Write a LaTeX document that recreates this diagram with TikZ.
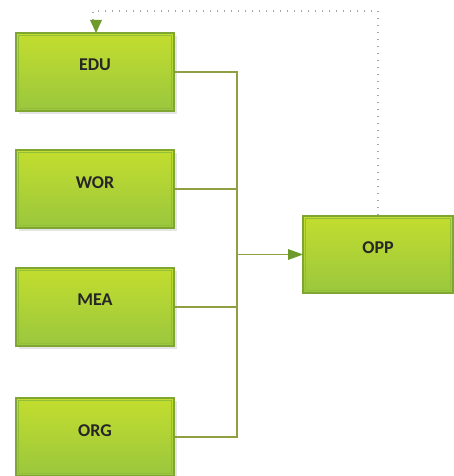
\documentclass[tikz,border=0pt]{standalone}
\usepackage{fontspec}
\setmainfont{Carlito}
\usetikzlibrary{arrows.meta}
\definecolor{gtop}{HTML}{C3DD2E}
\definecolor{gbot}{HTML}{9AC73E}
\definecolor{gedge}{HTML}{7FA633}
\definecolor{gin}{HTML}{93BE3A}
\definecolor{lineol}{HTML}{8FA043}
\definecolor{arrowg}{HTML}{6E9A2C}
\tikzset{
  gbox/.style={rectangle, minimum width=158pt, minimum height=78pt, inner sep=0pt,
    top color=gtop, bottom color=gbot, draw=gedge, line width=1.2pt},
  lbl/.style={font=\bfseries\fontsize{18}{20}\selectfont, text=black!85},
  conn/.style={draw=lineol, line width=1.4pt},
  fb/.style={draw=gray!70, line width=1.3pt, dash pattern=on 1.3pt off 5.7pt}
}
\newcommand{\innerframe}[1]{\draw[gin, line width=0.8pt] ([shift={(3pt,-3pt)}]#1.north west) rectangle ([shift={(-3pt,3pt)}]#1.south east);}
\begin{document}
\begin{tikzpicture}[x=1pt,y=-1pt]
\useasboundingbox (0,0) rectangle (453,476);
\fill[white] (0,0) rectangle (453,476);
% shadows
\foreach \y in {72,189,307,437} {\fill[gray!20] (19,\y-36) rectangle (177,\y+42);}
\node[gbox] (edu) at (95,72) {};
\node[gbox] (wor) at (95,189) {};
\node[gbox] (mea) at (95,307) {};
\node[gbox] (org) at (95,437) {};
\node[gbox, minimum width=150pt, minimum height=77pt] (opp) at (378,254.5) {};
\innerframe{edu}\innerframe{wor}\innerframe{mea}\innerframe{org}\innerframe{opp}
\node[lbl] (tedu) at (95,65) {EDU};
\node[lbl] (twor) at (95,183) {WOR};
\node[lbl] (tmea) at (95,300) {MEA};
\node[lbl] (torg) at (95,431) {ORG};
\node[lbl] (topp) at (378,248) {OPP};
\coordinate (bus) at (237,0);
\coordinate (top) at (0,11);
\coordinate (ahead) at (290,254.5);
\draw[conn] (edu.east) -- (edu.east -| bus) -- (org.east -| bus) -- (org.east);
\draw[conn] (wor.east) -- (wor.east -| bus);
\draw[conn] (mea.east) -- (mea.east -| bus);
\draw[conn] (opp.west -| bus) -- (ahead);
\fill[arrowg] (288,249) -- (303,254.5) -- (288,260) -- cycle;
\draw[fb] (opp.north) -- (opp.north |- top) -- ([xshift=-2pt]edu.north |- top) -- ([xshift=-2pt]edu.north |- 0,21);
\fill[arrowg] (90,20) -- (102,20) -- (96,33) -- cycle;
\end{tikzpicture}
\end{document}
